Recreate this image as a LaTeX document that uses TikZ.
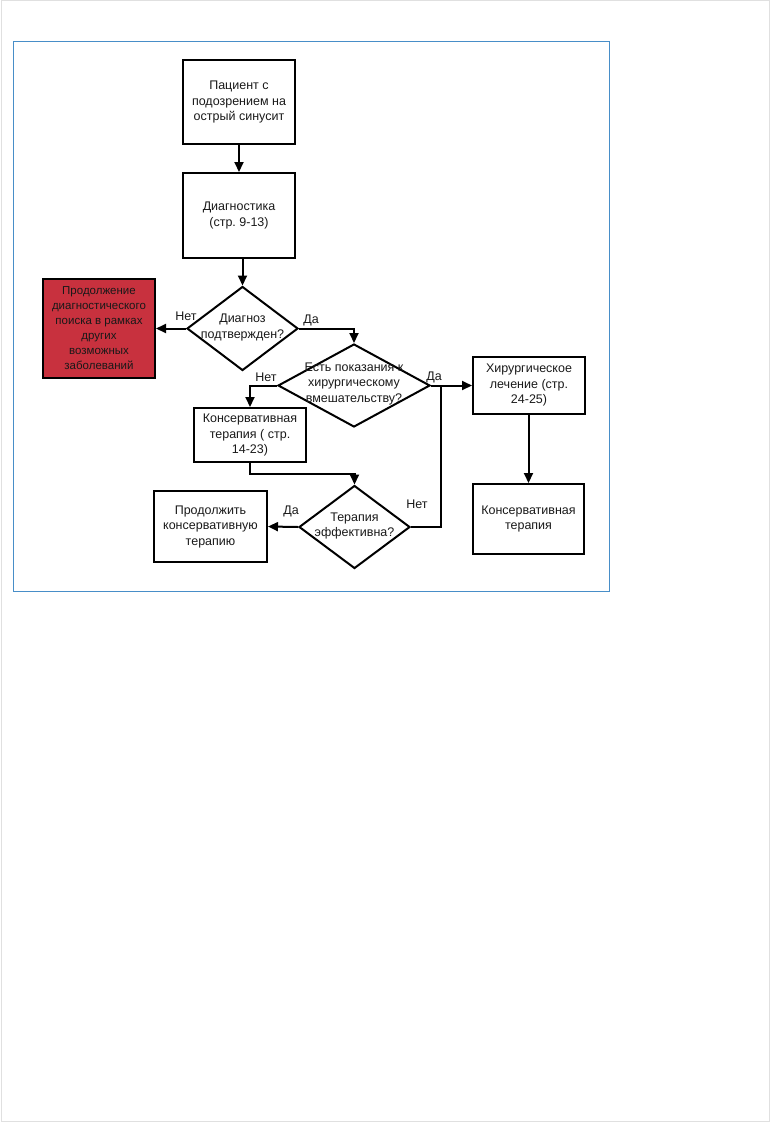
\documentclass[tikz,border=0pt]{standalone}
\usepackage{fontspec}
\setmainfont{Liberation Sans}
\usetikzlibrary{arrows.meta, shapes.geometric}
\frenchspacing

\definecolor{framblue}{RGB}{72,142,200}
\definecolor{alertred}{RGB}{200,49,62}

\tikzset{
  box/.style={draw, line width=2pt, inner sep=0pt, align=center},
  decision/.style={draw, diamond, line width=2pt, inner sep=0pt},
  txt/.style={align=center, inner sep=0pt},
  lbl/.style={inner sep=0pt}
}

\begin{document}
\begin{tikzpicture}[x=1pt, y=-1pt, line width=2pt,
    >={Triangle[length=10pt,width=9pt]},
    font=\fontsize{12.5}{15.5}\selectfont, text=black!90]
  \useasboundingbox (0,0) rectangle (770,1122);
  % page edge and frame
  \draw[black!12, line width=1pt] (1,0.5) rectangle (769,1121.5);
  \draw[framblue, line width=1.4pt] (13.5,41.5) rectangle (609.5,591.5);
  % boxes
  \node[box, minimum width=112pt, minimum height=84pt] (pat) at (239,102)
    {Пациент с\\подозрением на\\острый синусит};
  \node[box, minimum width=112pt, minimum height=85pt] (diag) at (239,215.5)
    {Диагностика\\(стр. 9-13)};
  \node[box, fill=alertred, minimum width=112pt, minimum height=99pt,
    font=\fontsize{11.5}{15}\selectfont] (srch) at (99,328.5)
    {Продолжение\\диагностического\\поиска в рамках\\других\\возможных\\заболеваний};
  \node[box, minimum width=112pt, minimum height=54pt] (cons) at (250,435)
    {Консервативная\\терапия ( стр.\\14-23)};
  \node[box, minimum width=112pt, minimum height=57pt] (surg) at (529,385)
    {Хирургическое\\лечение (стр.\\24-25)};
  \node[box, minimum width=111pt, minimum height=70pt] (cons2) at (528.5,519)
    {Консервативная\\терапия};
  \node[box, minimum width=113pt, minimum height=71pt] (cont) at (210.5,526.5)
    {Продолжить\\консервативную\\терапию};
  % decisions
  \node[decision, minimum width=111pt, minimum height=84pt] (dq1) at (242.5,328.5) {};
  \node[txt] (dq1t) at (242.5,327.5) {Диагноз\\подтвержден?};
  \node[decision, minimum width=152pt, minimum height=83pt] (dq2) at (354,385.5) {};
  \node[txt] (dq2t) at (354,383.5) {Есть показания к\\хирургическому\\вмешательству?};
  \node[decision, minimum width=111pt, minimum height=83pt] (dq3) at (354.5,527) {};
  \node[txt] (dq3t) at (354.5,526) {Терапия\\эффективна?};
  % labels
  \node[lbl] (no1) at (186,316) {Нет};
  \node[lbl] (yes1) at (311,320) {Да};
  \node[lbl] (no2) at (266,377) {Нет};
  \node[lbl] (yes2) at (434,377) {Да};
  \node[lbl] (no3) at (417,504) {Нет};
  \node[lbl] (yes3) at (291,511) {Да};
  % vertical lines
  \draw[->] (pat) -- (diag);
  \draw[->] (diag.south -| dq1.north) -- (dq1.north);
  \draw[->] (surg.south -| cons2.north) -- (cons2.north);
  % branches
  \draw[->] (dq1.west) -- (srch.east);
  \draw[->] (dq1.east) -| (dq2.north);
  \draw[->] (dq2.west) -| (cons.north);
  \draw[->] (dq2.east) -- (dq2.east -| surg.west);
  \draw[->] (cons.south) -- ++(0,11) -| (dq3.north);
  \draw[->] (dq3.west) -- (cont.east);
  % back to surgery
  \coordinate (jn) at (441,385.5);
  \draw (dq3.east) -| (jn);
\end{tikzpicture}
\end{document}
